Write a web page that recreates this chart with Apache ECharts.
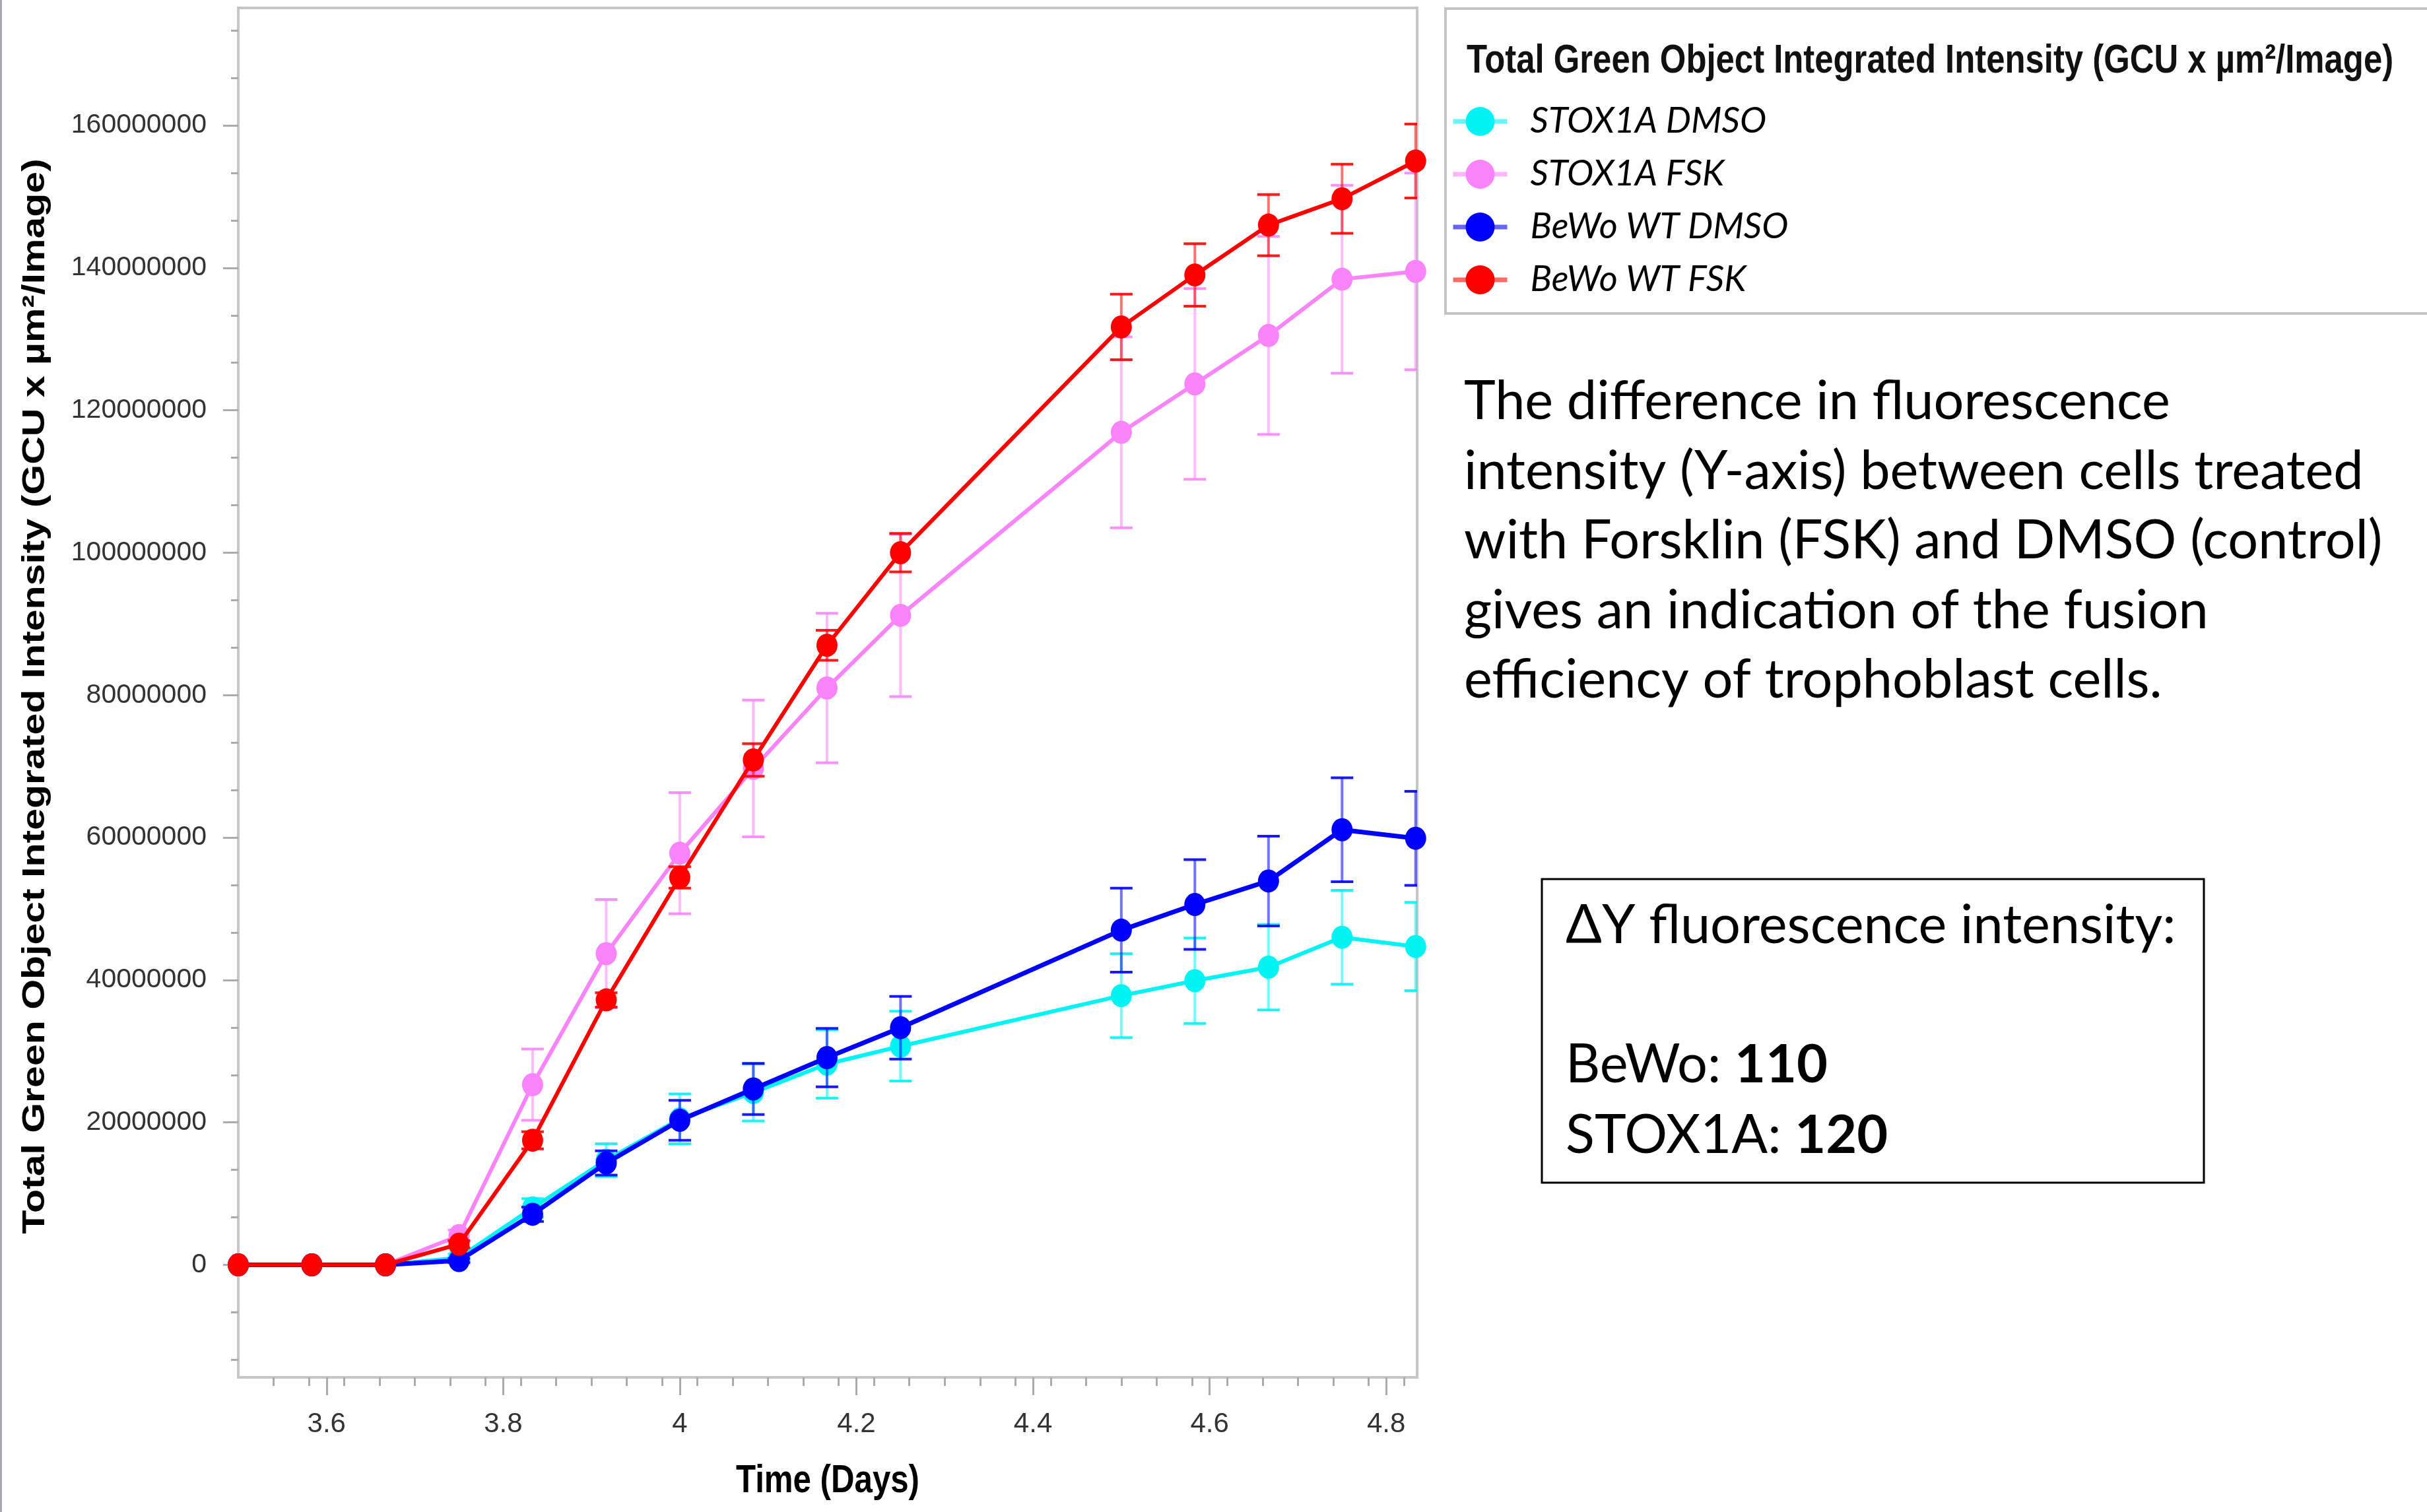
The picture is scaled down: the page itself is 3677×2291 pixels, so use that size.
<!DOCTYPE html>
<html><head><meta charset="utf-8">
<script src="https://cdn.jsdelivr.net/npm/echarts@6/dist/echarts.min.js"></script>
<style>html,body{margin:0;padding:0;background:#fff}#c{width:3677px;height:2291px}</style>
</head><body><div id="c"></div>
<script>
// ---- data (time in days) ----
const days = [3.5, 3.5833, 3.6667, 3.75, 3.8333, 3.9167, 4.0, 4.0833, 4.1667, 4.25, 4.5, 4.5833, 4.6667, 4.75, 4.8333];
const seriesNames = ['STOX1A DMSO', 'STOX1A FSK', 'BeWo WT DMSO', 'BeWo WT FSK'];
const stox1aDmso    = [0, 0, 0, 1000000, 8000000, 14700000, 20500000, 24200000, 28200000, 30700000, 37800000, 39900000, 41800000, 46000000, 44700000];
const stox1aDmsoErr = [0, 0, 0, 500000, 1300000, 2300000, 3500000, 4000000, 4800000, 4900000, 5900000, 6000000, 6000000, 6600000, 6200000];
const stox1aFsk     = [0, 0, 0, 4100000, 25300000, 43700000, 57800000, 69700000, 81000000, 91200000, 116900000, 123700000, 130500000, 138400000, 139500000];
const stox1aFskErr  = [0, 0, 0, 800000, 5000000, 7600000, 8500000, 9600000, 10500000, 11400000, 13400000, 13400000, 13900000, 13200000, 13800000];
const bewoDmso      = [0, 0, 0, 600000, 7100000, 14300000, 20300000, 24700000, 29100000, 33300000, 47000000, 50600000, 53900000, 61100000, 59900000];
const bewoDmsoErr   = [0, 0, 0, 300000, 1000000, 1700000, 2800000, 3600000, 4100000, 4400000, 5900000, 6300000, 6300000, 7300000, 6600000];
const bewoFsk       = [0, 0, 0, 2900000, 17500000, 37200000, 54400000, 70900000, 87000000, 100000000, 131700000, 139000000, 146000000, 149700000, 155000000];
const bewoFskErr    = [0, 0, 0, 500000, 1200000, 1000000, 1500000, 2300000, 2100000, 2700000, 4600000, 4400000, 4300000, 4850000, 5200000];
const xTickLabels = [3.6, 3.8, 4.0, 4.2, 4.4, 4.6, 4.8];
const yTickLabels = [0, 20000000, 40000000, 60000000, 80000000, 100000000, 120000000, 140000000, 160000000];
const yTitle = 'Total Green Object Integrated Intensity (GCU x \u00B5m\u00B2/Image)';
const xTitle = 'Time (Days)';
const noteLines = ['The difference in fluorescence', 'intensity (Y-axis) between cells treated', 'with Forsklin (FSK) and DMSO (control)', 'gives an indication of the fusion', 'efficiency of trophoblast cells.'];
const boxTitle = '\u0394Y fluorescence intensity:';
const boxRows = [['BeWo: ', '110'], ['STOX1A: ', '120']];

// ---- styling ----
const colors = ['#00f4f4', '#f984f9', '#0000ff', '#ff0000'];
const lineWidths = [6, 6, 7, 6];
const X_MIN = 3.5, X_MAX = 4.835, Y_MIN = -15800000, Y_MAX = 176500000;
const xMinor = [];
for (let k = 1; 3.5 + k * 0.04 < X_MAX; k++) { const v = +(3.5 + k * 0.04).toFixed(2); if (Math.abs(v * 5 - Math.round(v * 5)) > 1e-6) xMinor.push(v); }
const yMinor = [];
for (let k = -2; k <= 26; k++) { if (k % 3 !== 0) yMinor.push(k * 20000000 / 3); }

const vals = [stox1aDmso, stox1aFsk, bewoDmso, bewoFsk];
const errs = [stox1aDmsoErr, stox1aFskErr, bewoDmsoErr, bewoFskErr];
const sans = '"Liberation Sans", Arial, sans-serif';
const noteFont = 'Lato, "Open Sans", sans-serif';

const series = [];
seriesNames.forEach(function (name, si) {
  const col = colors[si];
  series.push({
    type: 'custom', name: name + ' SD', z: 2 * si + 1, clip: true, silent: true,
    data: days.map(function (d, i) { return [d, vals[si][i], errs[si][i]]; }),
    encode: { x: 0, y: 1 },
    renderItem: function (params, api) {
      const x = api.value(0), y = api.value(1), e = api.value(2);
      if (!e) return null;
      const t = api.coord([x, y + e]), b = api.coord([x, y - e]);
      const hw = 17;
      return { type: 'group', children: [
        { type: 'line', shape: { x1: t[0], y1: t[1], x2: b[0], y2: b[1] }, style: { stroke: col, lineWidth: 4, opacity: 0.55 } },
        { type: 'line', shape: { x1: t[0] - hw, y1: t[1], x2: t[0] + hw, y2: t[1] }, style: { stroke: col, lineWidth: 4, opacity: 0.9 } },
        { type: 'line', shape: { x1: b[0] - hw, y1: b[1], x2: b[0] + hw, y2: b[1] }, style: { stroke: col, lineWidth: 4, opacity: 0.9 } }
      ] };
    }
  });
  series.push({
    type: 'line', name: name, z: 2 * si + 2,
    data: days.map(function (d, i) { return [d, vals[si][i]]; }),
    symbol: 'circle', symbolSize: [32, 35], showSymbol: true,
    lineStyle: { width: lineWidths[si], color: col }, itemStyle: { color: col },
    emphasis: { disabled: true }
  });
});

const graphics = [
  { type: 'rect', z: 0, shape: { x: 0, y: 0, width: 3, height: 2291 }, style: { fill: '#a8a8b0' } },
  { type: 'rect', z: 0, shape: { x: 2190, y: 13, width: 1500, height: 462 }, style: { fill: '#fff', stroke: '#c4c4c4', lineWidth: 4 } },
  { type: 'text', z: 5, x: 2222, y: 93, scaleX: 0.82, style: { text: yTitle, font: 'bold 62px ' + sans, fill: '#111', align: 'left', verticalAlign: 'middle' } },
  { type: 'text', z: 5, x: 54, y: 1055, rotation: Math.PI / 2, scaleY: 0.82, style: { text: yTitle, font: 'bold 59px ' + sans, fill: '#000', align: 'center', verticalAlign: 'middle' } },
  { type: 'text', z: 5, x: 1254, y: 2244, scaleX: 0.82, style: { text: xTitle, font: 'bold 60px ' + sans, fill: '#000', align: 'center', verticalAlign: 'middle' } },
  { type: 'rect', z: 0, shape: { x: 2336, y: 1332, width: 1003, height: 460 }, style: { fill: 'none', stroke: '#000', lineWidth: 3 } }
];
noteLines.forEach(function (ln, i) {
  graphics.push({ type: 'text', z: 5, x: 2218, y: 609 + i * 105.5, style: { text: ln, font: '81px ' + noteFont, fill: '#000', align: 'left', verticalAlign: 'middle' } });
});
graphics.push({ type: 'text', z: 5, x: 2372, y: 1403, style: { text: boxTitle, font: '81px ' + noteFont, fill: '#000', align: 'left', verticalAlign: 'middle' } });
boxRows.forEach(function (r, i) {
  graphics.push({ type: 'text', z: 5, x: 2372, y: 1614 + i * 107, style: {
    text: r[0] + '{b|' + r[1] + '}', font: '81px ' + noteFont, fill: '#000', align: 'left', verticalAlign: 'middle',
    rich: { b: { fontWeight: 'bold', fontSize: 81, fontFamily: 'Lato, "Open Sans", sans-serif', fill: '#000' } } } });
});

const tickCol = '#ababab';
const option = {
  animation: false,
  backgroundColor: '#ffffff',
  grid: { left: 361, right: 1530, top: 12, bottom: 204, show: true, borderColor: '#c6c6c6', borderWidth: 4, backgroundColor: 'transparent' },
  legend: {
    data: seriesNames, orient: 'vertical', left: 2198, top: 157, padding: 0, z: 10,
    itemWidth: 82, itemHeight: 55, itemGap: 26,
    lineStyle: { width: 7, opacity: 0.6 },
    textStyle: { fontFamily: noteFont, fontStyle: 'italic', fontSize: 54, color: '#000', padding: [16, 0, 0, 30] }
  },
  xAxis: [
    { type: 'value', min: X_MIN, max: X_MAX, position: 'bottom',
      axisLine: { show: true, onZero: false, lineStyle: { color: '#c6c6c6', width: 4 } },
      axisTick: { show: true, customValues: xTickLabels, length: 27, lineStyle: { color: tickCol, width: 3 } },
      axisLabel: { show: true, customValues: xTickLabels, margin: 50, fontFamily: sans, fontSize: 42, color: '#333',
        formatter: function (v) { return String(+(+v).toFixed(1)); } },
      splitLine: { show: false } },
    { type: 'value', min: X_MIN, max: X_MAX, position: 'bottom',
      axisLine: { show: false, onZero: false },
      axisTick: { show: true, customValues: xMinor, length: 13, lineStyle: { color: tickCol, width: 3 } },
      axisLabel: { show: false }, splitLine: { show: false } }
  ],
  yAxis: [
    { type: 'value', min: Y_MIN, max: Y_MAX, position: 'left',
      axisLine: { show: true, onZero: false, lineStyle: { color: '#c6c6c6', width: 4 } },
      axisTick: { show: true, customValues: yTickLabels, length: 23, lineStyle: { color: tickCol, width: 3 } },
      axisLabel: { show: true, customValues: yTickLabels, margin: 48, fontFamily: sans, fontSize: 41, color: '#333',
        formatter: function (v) { return String(Math.round(v)); } },
      splitLine: { show: false } },
    { type: 'value', min: Y_MIN, max: Y_MAX, position: 'left',
      axisLine: { show: false, onZero: false },
      axisTick: { show: true, customValues: yMinor, length: 11, lineStyle: { color: tickCol, width: 3 } },
      axisLabel: { show: false }, splitLine: { show: false } }
  ],
  graphic: { elements: graphics },
  series: series
};
const chart = echarts.init(document.getElementById('c'), null, { renderer: 'canvas' });
chart.setOption(option);
</script></body></html>
